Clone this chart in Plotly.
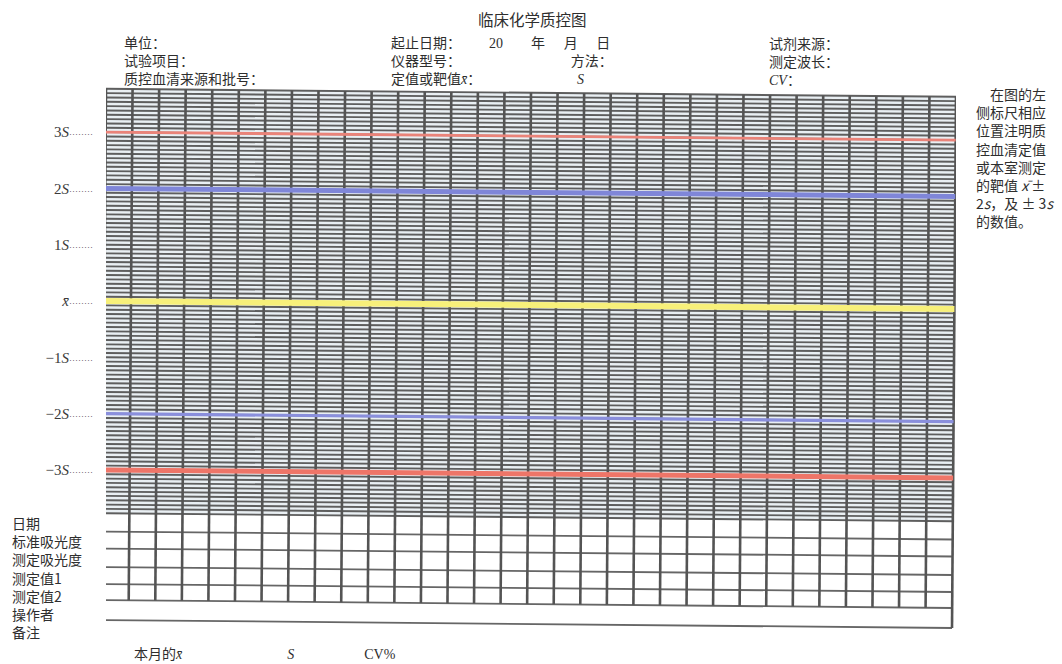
import plotly.graph_objects as go

# ---------------- data (form content) ----------------
N_COLS = 32                                   # day columns in the form
SIGMA_LEVELS = [3, 2, 1, 0, -1, -2, -3]       # scale marks on the left
SIGMA_LABELS = ["3<i>S</i>", "2<i>S</i>", "1<i>S</i>", "<i>x\u0304</i>",
                "\u22121<i>S</i>", "\u22122<i>S</i>", "\u22123<i>S</i>"]
LIMIT_LEVELS = [3, 2, 0, -2, -3]              # coloured control lines
FINE_STEPS_PER_S = 13                         # ruled lines per S
FINE_STEPS_BEYOND_3S = 10
TABLE_ROW_LABELS = ["日期", "标准吸光度", "测定吸光度", "测定值1", "测定值2", "操作者", "备注"]
RIGHT_NOTE = ["\u3000在图的左", "侧标尺相应", "位置注明质", "控血清定值", "或本室测定",
              "的靶值 <i>x\u0304</i> ±", "2<i>s</i>，及 ± 3<i>s</i>", "的数值。"]

SER = "<span style='font-family:Liberation Serif'>{}</span>"
IS, ES, TS = "\u3000", "\u2002", "\u2004"   # ideographic / en / three-per-em space
HEADER_LEFT = ["单位：", "试验项目：", "质控血清来源和批号："]
HEADER_MID = ["起止日期：" + IS * 2 + ES + SER.format("20") + IS * 2 + "年" + IS + TS + "月" + IS + TS + "日",
              "仪器型号：" + IS * 8 + TS + "方法：",
              "定值或靶值" + SER.format("<i>x\u0304</i>") + "：" + IS * 7 + TS + SER.format("<i>S</i>")]
HEADER_RIGHT = ["试剂来源：", "测定波长：", SER.format("<i>CV</i>") + "："]
FOOTER = "本月的" + SER.format("<i>x\u0304</i>") + IS * 7 + ES + SER.format("<i>S</i>") + IS * 5 + SER.format("CV%")

# ---------------- layout helpers ----------------
W, H = 1062, 664
L, R, T, B = 106, 956, 80, 640
X0_PX, PX_PER_S = 301.0, 56.3
TILT_S = 8 / PX_PER_S          # scan tilt: right end lower
SHEAR = 4 / 26.56 / 9.44       # scan tilt of verticals

def s_of(py):
    return (X0_PX - py) / PX_PER_S

S_TOP = (3 * FINE_STEPS_PER_S + FINE_STEPS_BEYOND_3S) / FINE_STEPS_PER_S
S_RULE_BOTTOM = -S_TOP
TABLE_EDGES = [s_of(p) for p in (531.5, 548.5, 567, 584, 600)]
TABLE_BOTTOM = s_of(620)
INNER_BOTTOM = s_of(600)

def pt(x, s):
    return x + SHEAR * (s - S_TOP), s - TILT_S * x / N_COLS

def seg_lists(segs):
    xs, ys = [], []
    for (xa, sa), (xb, sb) in segs:
        x1, y1 = pt(xa, sa)
        x2, y2 = pt(xb, sb)
        xs += [x1, x2, None]
        ys += [y1, y2, None]
    return xs, ys

fig = go.Figure()

# background of ruled area
corners = [pt(0, S_TOP), pt(N_COLS, S_TOP), pt(N_COLS, S_RULE_BOTTOM), pt(0, S_RULE_BOTTOM), pt(0, S_TOP)]
fig.add_trace(go.Scatter(x=[c[0] for c in corners], y=[c[1] for c in corners], fill="toself",
                         fillcolor="#e9eff3", line=dict(width=0), mode="lines", hoverinfo="skip"))

# fine ruled lines
n = 3 * FINE_STEPS_PER_S + FINE_STEPS_BEYOND_3S
fine = [((0, k / FINE_STEPS_PER_S), (N_COLS, k / FINE_STEPS_PER_S)) for k in range(-n, n + 1)]
xs, ys = seg_lists(fine)
fig.add_trace(go.Scatter(x=xs, y=ys, mode="lines", line=dict(color="#5e5e5e", width=1.9), hoverinfo="skip"))

# table horizontal lines
xs, ys = seg_lists([((0, e), (N_COLS, e)) for e in TABLE_EDGES + [TABLE_BOTTOM]])
fig.add_trace(go.Scatter(x=xs, y=ys, mode="lines", line=dict(color="#666666", width=1.8), hoverinfo="skip"))

# vertical lines
vsegs = []
for c in range(N_COLS + 1):
    bottom = TABLE_BOTTOM if c in (0, N_COLS) else INNER_BOTTOM
    vsegs.append(((c, S_TOP), (c, bottom)))
xs, ys = seg_lists(vsegs)
fig.add_trace(go.Scatter(x=xs, y=ys, mode="lines", line=dict(color="#545454", width=2.6), hoverinfo="skip"))

# control limit lines
LIMIT_STYLE = {3: ("#ea8379", 2.8), 2: ("#7f86d8", 5), 0: ("#f7f07a", 6),
               -2: ("#8a8fdc", 3.2), -3: ("#ee7568", 5)}
for lv in LIMIT_LEVELS:
    col, wd = LIMIT_STYLE[lv]
    xs, ys = seg_lists([((0, lv), (N_COLS, lv))])
    fig.add_trace(go.Scatter(x=xs, y=ys, mode="lines", line=dict(color=col, width=wd), hoverinfo="skip"))

# ---------------- text ----------------
CJK = "Noto Sans CJK SC"
SERIF = "Liberation Serif"
TXT = "#2e2e2e"

def ax(px):
    return (px - L) / (R - L)

def ay(py):
    return (B - py) / (B - T)

def note(text, px, py, size=14, family=CJK, anchor="left", yanchor="middle"):
    fig.add_annotation(text=text, x=ax(px), y=ay(py), xref="paper", yref="paper",
                       xanchor=anchor, yanchor=yanchor, showarrow=False, align="left",
                       borderpad=0, font=dict(family=family, size=size, color=TXT))

note("临床化学质控图", 477, 19, size=15.5)
note("<br>".join(HEADER_LEFT), 123, 59.5)
note("<br>".join(HEADER_MID), 390, 59.5)
note("<br>".join(HEADER_RIGHT), 768, 60.5)

# right-hand instruction (one multi-line block)
note("<br>".join(RIGHT_NOTE), 975, 158)

# table row labels (one multi-line block)
note("<br>".join(TABLE_ROW_LABELS), 11, 577.5)

note(FOOTER, 133, 653)

# ---------------- axes ----------------
dots = "<span style='font-size:9px'>········</span>"
fig.update_xaxes(range=[0, N_COLS], showgrid=False, zeroline=False, showline=False,
                 showticklabels=False, ticks="")
fig.update_yaxes(range=[s_of(B), s_of(T)], showgrid=False, zeroline=False, showline=False,
                 tickmode="array", tickvals=SIGMA_LEVELS,
                 ticktext=[lab + dots for lab in SIGMA_LABELS], ticks="",
                 ticklabelstandoff=12,
                 tickfont=dict(family=SERIF, size=15, color="#3a3a3a"))
fig.update_layout(width=W, height=H, margin=dict(l=L, r=W - R, t=T, b=H - B),
                  paper_bgcolor="white", plot_bgcolor="white", showlegend=False)

fig.write_html("out.html", config={"displayModeBar": False},
               post_script="document.body.style.margin='0px';")
